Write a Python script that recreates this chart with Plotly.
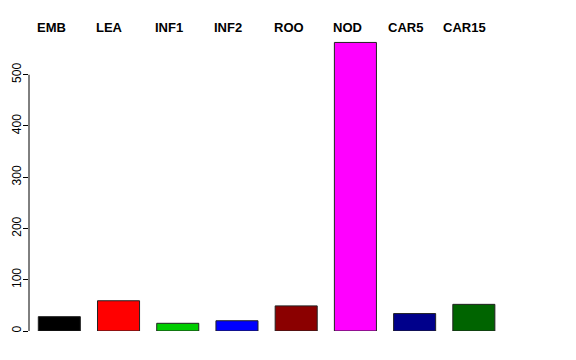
import plotly.graph_objects as go

categories = ["EMB", "LEA", "INF1", "INF2", "ROO", "NOD", "CAR5", "CAR15"]
values = [28, 59, 15, 20, 49, 563, 34, 52]
colors = ["#000000", "#FF0000", "#00CD00", "#0000FF", "#8B0000", "#FF00FF", "#00008B", "#006400"]
y_ticks = [0, 100, 200, 300, 400, 500]

# layout / style settings
label_nudge_px = [3, 4, 4, 4, 3, 3, 8, 12]
bar_width = 0.71
slot_px = 59.2

fig = go.Figure()
fig.add_trace(go.Bar(
    x=categories,
    y=values,
    width=bar_width,
    marker=dict(color=colors, line=dict(color="#222222", width=1)),
    hoverinfo="x+y",
))

half_bar_px = bar_width * slot_px / 2
for i, (cat, nudge) in enumerate(zip(categories, label_nudge_px)):
    fig.add_annotation(
        x=cat, xref="x", xanchor="left",
        xshift=-half_bar_px - nudge,
        y=1, yref="paper", yanchor="middle", yshift=-3,
        text=f"<b>{cat}</b>", showarrow=False,
        font=dict(family="Liberation Sans, Arial, sans-serif", size=13, color="black"),
    )

fig.add_shape(type="line", xref="paper", x0=0, x1=0, yref="y",
              y0=y_ticks[0], y1=y_ticks[-1], line=dict(color="black", width=1))

fig.update_layout(
    width=576, height=360,
    margin=dict(l=29, r=43, t=24, b=29),
    paper_bgcolor="white", plot_bgcolor="white",
    showlegend=False,
    font=dict(family="Liberation Sans, Arial, sans-serif", size=12, color="black"),
    xaxis=dict(
        type="category", categoryorder="array", categoryarray=categories,
        range=[-0.512, 7.999], visible=False, automargin=False,
    ),
    yaxis=dict(
        range=[0, 599], tickvals=y_ticks, ticktext=[str(v) for v in y_ticks],
        ticks="outside", ticklen=5, tickcolor="black", tickwidth=1,
        tickangle=-90, showgrid=False, zeroline=False, showline=False,
        tickfont=dict(size=12), ticklabelstandoff=-3, automargin=False,
    ),
)

fig.write_html("out.html")
